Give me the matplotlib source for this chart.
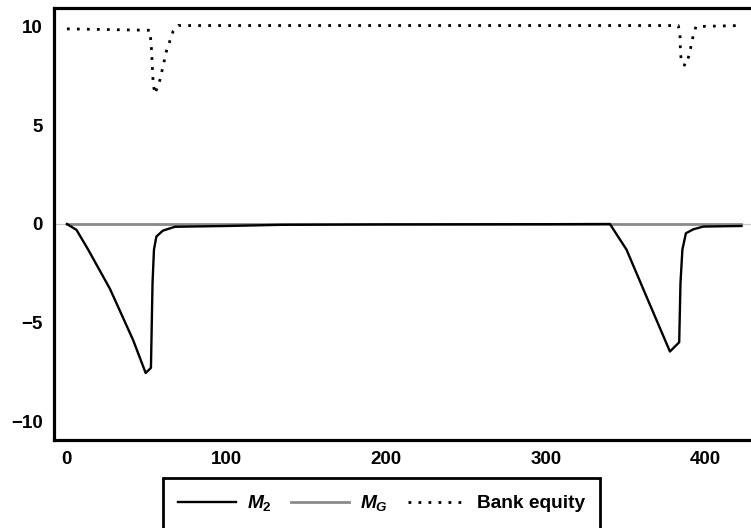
import matplotlib
matplotlib.use("Agg")
import numpy as np
from matplotlib import pyplot as plt

# values
m2_x = [0, 6, 13.3, 27, 41.5, 49.3, 52.6, 53.6, 54.5, 56, 60, 67.6, 100, 135, 200, 300,
        340, 350.4, 363, 377.6, 383.4, 384.2, 385.4, 387.6, 392.2, 398.5, 422.4]
m2_y = [0, -0.3, -1.3, -3.3, -5.9, -7.56, -7.3, -3.0, -1.3, -0.64, -0.34, -0.14, -0.1, -0.04, -0.02, -0.01,
        0, -1.3, -3.7, -6.47, -6.0, -3.0, -1.3, -0.47, -0.27, -0.13, -0.1]

mg_x = [0, 422.4]
mg_y = [0, 0]

eq_x = [0, 52, 53, 54, 55.1, 58.2, 62.4, 66.6, 69.7, 382.8, 383.9, 384.2, 385.4, 387.6,
        389.7, 392.2, 393.9, 421.4]
eq_y = [9.9, 9.83, 8.8, 7.12, 6.6, 7.3, 8.8, 9.8, 10.07, 10.07, 9.65, 8.6, 8.1, 8.05,
        8.6, 9.57, 10.02, 10.07]

xticks = [0, 100, 200, 300, 400]
yticks = [-10, -5, 0, 5, 10]
ytick_labels = ['\u221210', '\u22125', '0', '5', '10']
series_names = ['$\\mathit{M}_\\mathrm{2}$', '$\\mathit{M}_\\mathit{G}$', 'Bank equity']

plt.rcParams['font.family'] = ['Liberation Sans', 'DejaVu Sans']
plt.rcParams['mathtext.fontset'] = 'custom'
plt.rcParams['mathtext.it'] = 'Liberation Sans:italic:bold'
plt.rcParams['mathtext.rm'] = 'Liberation Sans:bold'
plt.rcParams['mathtext.bf'] = 'Liberation Sans:bold'

fig = plt.figure(figsize=(7.51, 5.28), dpi=100)
ax = fig.add_axes([54/751, 1-440/528, 706/751, 432/528])

ax.axhline(0, color='#c8c8c8', lw=0.9, zorder=1)
l1, = ax.plot(m2_x, m2_y, color='black', lw=1.7, zorder=3)
l2, = ax.plot(mg_x, mg_y, color='#8a8a8a', lw=2.0, zorder=2)
l3, = ax.plot(eq_x, eq_y, color='black', lw=2.0, linestyle=(0, (1, 2.6)),
              dash_capstyle='butt', zorder=3)

ax.set_xlim(-8.1, 434)
ax.set_ylim(-10.96, 10.96)
ax.set_xticks(xticks)
ax.set_yticks(yticks)
ax.set_yticklabels(ytick_labels)
ax.tick_params(length=0, labelsize=13.5, pad=8)
for lab in ax.get_xticklabels() + ax.get_yticklabels():
    lab.set_fontweight('bold')
for s in ax.spines.values():
    s.set_linewidth(2.3)

leg = fig.legend([l1, l2, l3], series_names,
                 loc='upper left', bbox_to_anchor=(163/751, 1-478/528), borderaxespad=0,
                 ncol=3, fancybox=False, edgecolor='black', framealpha=1,
                 prop={'weight': 'bold', 'size': 13.8}, handlelength=3.0,
                 columnspacing=1.0, handletextpad=0.6, borderpad=0.8)
leg.get_frame().set_linewidth(2.0)

fig.savefig('out.png', dpi=100)
